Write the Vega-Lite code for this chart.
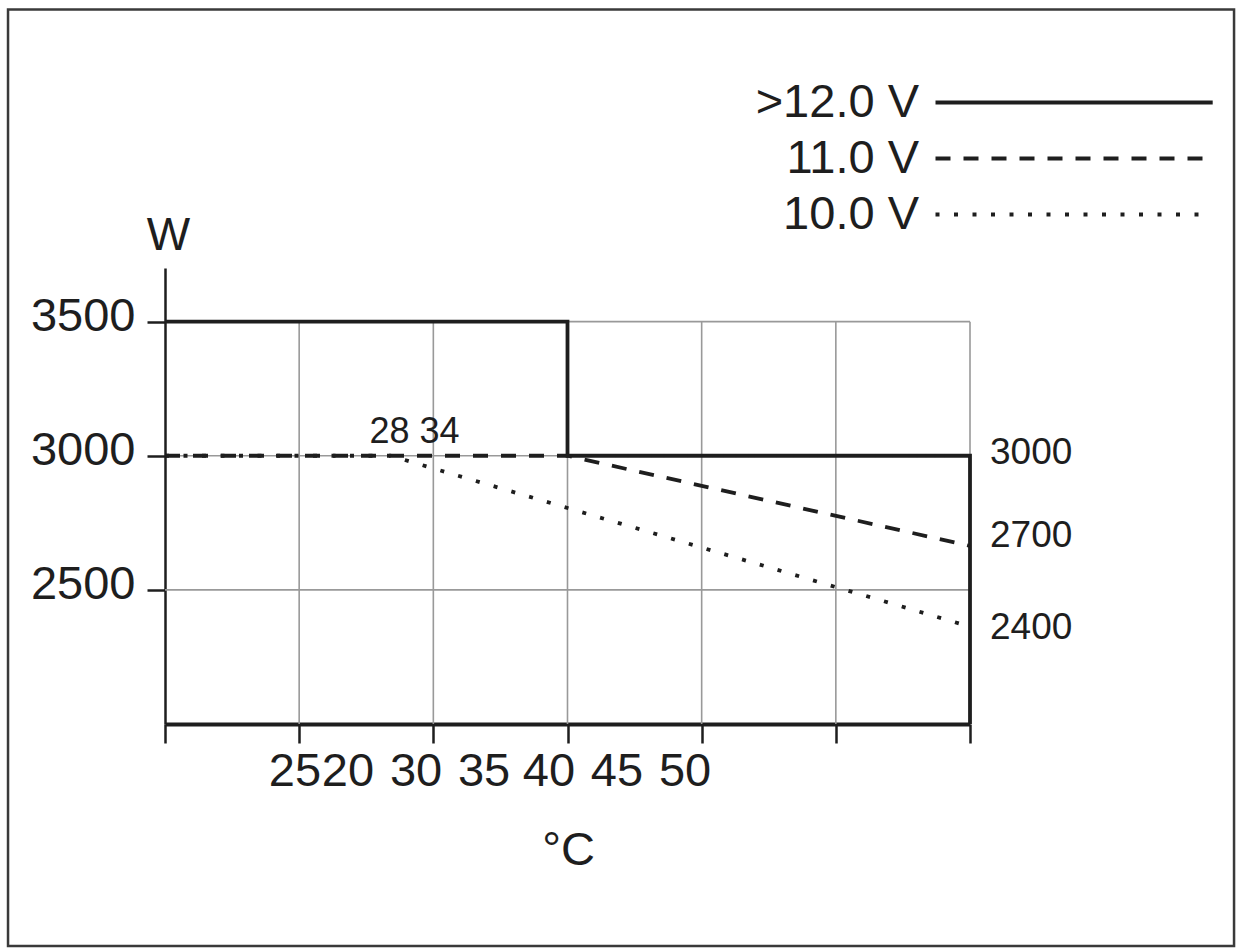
{
  "$schema": "https://vega.github.io/schema/vega-lite/v6.json",
  "autosize": {"type": "none"},
  "width": 805,
  "height": 456,
  "padding": {"left": 165, "top": 268, "right": 267, "bottom": 224},
  "background": "white",
  "config": {
    "view": {"stroke": null},
    "font": "Liberation Sans",
    "text": {"font": "Liberation Sans", "color": "#1e1e1e"},
    "axisX": {
      "labels": false,
      "grid": false,
      "ticks": true,
      "tickSize": 19,
      "tickWidth": 2.5,
      "tickColor": "#1e1e1e",
      "domainColor": "#1e1e1e",
      "domainWidth": 4,
      "titleFont": "Liberation Sans",
      "titleFontSize": 47,
      "titleFontWeight": "normal",
      "titleColor": "#1e1e1e",
      "titleX": 403,
      "titleY": 126,
      "titleAlign": "center",
      "titleBaseline": "middle"
    },
    "axisY": {
      "grid": false,
      "tickSize": 18,
      "tickWidth": 2.5,
      "tickColor": "#1e1e1e",
      "domainColor": "#1e1e1e",
      "domainWidth": 2.5,
      "labelFont": "Liberation Sans",
      "labelFontSize": 47,
      "labelColor": "#1e1e1e",
      "labelPadding": 12,
      "labelBaseline": "middle",
      "labelOffset": -5,
      "titleFont": "Liberation Sans",
      "titleFontSize": 46,
      "titleFontWeight": "normal",
      "titleColor": "#1e1e1e",
      "titleAngle": 0,
      "titleX": 3,
      "titleY": -33,
      "titleAlign": "center",
      "titleBaseline": "middle"
    }
  },
  "datasets": {
    "power": [
      {"series": ">12.0 V", "t": 10, "w": 3500, "order": 1},
      {"series": ">12.0 V", "t": 40, "w": 3500, "order": 2},
      {"series": ">12.0 V", "t": 40, "w": 3000, "order": 3},
      {"series": ">12.0 V", "t": 70, "w": 3000, "order": 4},
      {"series": ">12.0 V", "t": 70, "w": 2000, "order": 5},
      {"series": "11.0 V", "t": 10, "w": 3000, "order": 1},
      {"series": "11.0 V", "t": 40, "w": 3000, "order": 2},
      {"series": "11.0 V", "t": 70, "w": 2664, "order": 3},
      {"series": "10.0 V", "t": 10, "w": 3000, "order": 1},
      {"series": "10.0 V", "t": 26.8, "w": 3000, "order": 2},
      {"series": "10.0 V", "t": 70, "w": 2363, "order": 3}
    ],
    "vgrid": [{"t": 20}, {"t": 30}, {"t": 40}, {"t": 50}, {"t": 60}, {"t": 70}],
    "hgrid": [{"w": 2500}, {"w": 3000}, {"w": 3500}],
    "xlabels": [
      {"t": 19.69, "label": "25"},
      {"t": 23.64, "label": "20"},
      {"t": 28.71, "label": "30"},
      {"t": 33.78, "label": "35"},
      {"t": 38.62, "label": "40"},
      {"t": 43.69, "label": "45"},
      {"t": 48.76, "label": "50"}
    ],
    "rlabels": [
      {"t": 70, "w": 3010, "label": "3000"},
      {"t": 70, "w": 2700, "label": "2700"},
      {"t": 70, "w": 2358, "label": "2400"}
    ],
    "notes": [{"t": 28.6, "w": 3089, "label": "28 34"}]
  },
  "layer": [
    {
      "data": {"values": [{}]},
      "mark": {"type": "rect", "fill": null, "stroke": "#3a3a3a", "strokeWidth": 2.5},
      "encoding": {
        "x": {"datum": -1.7, "type": "quantitative", "title": "°C", "scale": {"domain": [10, 70], "nice": false, "zero": false}, "axis": {"values": [10, 20, 30, 40, 50, 60, 70]}},
        "x2": {"datum": 89.68},
        "y": {"datum": 4664, "type": "quantitative", "title": "W", "scale": {"domain": [2000, 3700], "nice": false, "zero": false}, "axis": {"values": [2500, 3000, 3500], "format": "d"}},
        "y2": {"datum": 1172}
      }
    },
    {
      "data": {"name": "vgrid"},
      "mark": {"type": "rule", "color": "#999999", "strokeWidth": 1.6},
      "encoding": {
        "x": {"field": "t", "type": "quantitative", "title": "°C", "scale": {"domain": [10, 70], "nice": false, "zero": false}, "axis": {"values": [10, 20, 30, 40, 50, 60, 70]}},
        "y": {"datum": 2000, "type": "quantitative", "title": "W", "scale": {"domain": [2000, 3700], "nice": false, "zero": false}, "axis": {"values": [2500, 3000, 3500], "format": "d"}},
        "y2": {"datum": 3500}
      }
    },
    {
      "data": {"name": "hgrid"},
      "mark": {"type": "rule", "color": "#999999", "strokeWidth": 1.6},
      "encoding": {
        "x": {"datum": 10, "type": "quantitative", "title": "°C", "scale": {"domain": [10, 70], "nice": false, "zero": false}, "axis": {"values": [10, 20, 30, 40, 50, 60, 70]}},
        "x2": {"datum": 70},
        "y": {"field": "w", "type": "quantitative", "title": "W", "scale": {"domain": [2000, 3700], "nice": false, "zero": false}, "axis": {"values": [2500, 3000, 3500], "format": "d"}}
      }
    },
    {
      "data": {"name": "power"},
      "mark": {"type": "line", "color": "#1e1e1e", "strokeWidth": 3.8, "strokeCap": "butt"},
      "encoding": {
        "x": {"field": "t", "type": "quantitative", "title": "°C", "scale": {"domain": [10, 70], "nice": false, "zero": false}, "axis": {"values": [10, 20, 30, 40, 50, 60, 70]}},
        "y": {"field": "w", "type": "quantitative", "title": "W", "scale": {"domain": [2000, 3700], "nice": false, "zero": false}, "axis": {"values": [2500, 3000, 3500], "format": "d"}},
        "order": {"field": "order", "type": "quantitative"},
        "strokeDash": {
          "field": "series",
          "type": "nominal",
          "scale": {
            "domain": [">12.0 V", "11.0 V", "10.0 V"],
            "range": [[1, 0], [15, 13], [4, 14.5]]
          },
          "legend": {
            "title": null,
            "orient": "none",
            "legendX": 747,
            "legendY": -189,
            "padding": 0,
            "symbolType": "M0,0H13.2",
            "symbolSize": 1764,
            "symbolStrokeWidth": 3.8,
            "symbolStrokeColor": "#1e1e1e",
            "symbolFillColor": "transparent",
            "symbolOffset": 0,
            "rowPadding": 8,
            "labelFont": "Liberation Sans",
            "labelFontSize": 47,
            "labelColor": "#1e1e1e",
            "labelAlign": "right",
            "labelBaseline": "middle",
            "labelOffset": -40,
            "labelLimit": 0
          }
        }
      }
    },
    {
      "data": {"name": "xlabels"},
      "mark": {"type": "text", "fontSize": 47, "baseline": "middle", "align": "center", "dy": 48},
      "encoding": {
        "x": {"field": "t", "type": "quantitative", "title": "°C", "scale": {"domain": [10, 70], "nice": false, "zero": false}, "axis": {"values": [10, 20, 30, 40, 50, 60, 70]}},
        "y": {"datum": 2000, "type": "quantitative", "title": "W", "scale": {"domain": [2000, 3700], "nice": false, "zero": false}, "axis": {"values": [2500, 3000, 3500], "format": "d"}},
        "text": {"field": "label"}
      }
    },
    {
      "data": {"name": "rlabels"},
      "mark": {"type": "text", "fontSize": 37, "baseline": "middle", "align": "left", "dx": 20},
      "encoding": {
        "x": {"field": "t", "type": "quantitative", "title": "°C", "scale": {"domain": [10, 70], "nice": false, "zero": false}, "axis": {"values": [10, 20, 30, 40, 50, 60, 70]}},
        "y": {"field": "w", "type": "quantitative", "title": "W", "scale": {"domain": [2000, 3700], "nice": false, "zero": false}, "axis": {"values": [2500, 3000, 3500], "format": "d"}},
        "text": {"field": "label"}
      }
    },
    {
      "data": {"name": "notes"},
      "mark": {"type": "text", "fontSize": 36, "baseline": "middle", "align": "center"},
      "encoding": {
        "x": {"field": "t", "type": "quantitative", "title": "°C", "scale": {"domain": [10, 70], "nice": false, "zero": false}, "axis": {"values": [10, 20, 30, 40, 50, 60, 70]}},
        "y": {"field": "w", "type": "quantitative", "title": "W", "scale": {"domain": [2000, 3700], "nice": false, "zero": false}, "axis": {"values": [2500, 3000, 3500], "format": "d"}},
        "text": {"field": "label"}
      }
    }
  ]
}
